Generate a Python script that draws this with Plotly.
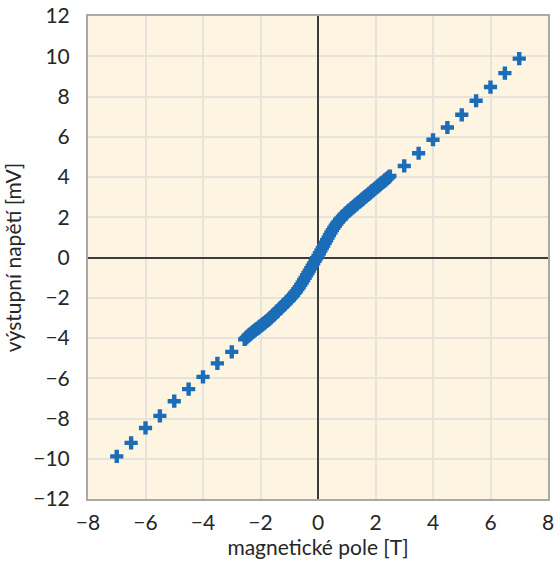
import plotly.graph_objects as go

# Sparse measurements at high field (negative side)
field_neg = [-7.0, -6.5, -6.0, -5.5, -5.0, -4.5, -4.0, -3.5, -3.0]
volt_neg = [-9.88, -9.21, -8.47, -7.87, -7.14, -6.54, -5.93, -5.26, -4.69]

# Dense measurements around zero field
field_mid = [-2.55, -2.50, -2.45, -2.40, -2.35, -2.30, -2.25, -2.20, -2.15, -2.10,
             -2.05, -2.00, -1.95, -1.90, -1.85, -1.80, -1.75, -1.70, -1.65, -1.60,
             -1.55, -1.50, -1.45, -1.40, -1.35, -1.30, -1.25, -1.20, -1.15, -1.10,
             -1.05, -1.00, -0.95, -0.90, -0.85, -0.80, -0.75, -0.70, -0.65, -0.60,
             -0.55, -0.50, -0.45, -0.40, -0.35, -0.30, -0.25, -0.20, -0.15, -0.10,
             -0.05, 0.00, 0.05, 0.10, 0.15, 0.20, 0.25, 0.30, 0.35, 0.40,
             0.45, 0.50, 0.55, 0.60, 0.65, 0.70, 0.75, 0.80, 0.85, 0.90,
             0.95, 1.00, 1.05, 1.10, 1.15, 1.20, 1.25, 1.30, 1.35, 1.40,
             1.45, 1.50, 1.55, 1.60, 1.65, 1.70, 1.75, 1.80, 1.85, 1.90,
             1.95, 2.00, 2.05, 2.10, 2.15, 2.20, 2.25, 2.30, 2.35, 2.40,
             2.45, 2.50]
volt_mid = [-4.07, -4.00, -3.93, -3.86, -3.80, -3.74, -3.68, -3.62, -3.57, -3.52,
            -3.46, -3.41, -3.35, -3.30, -3.24, -3.18, -3.12, -3.06, -3.00, -2.93,
            -2.86, -2.79, -2.72, -2.65, -2.58, -2.51, -2.44, -2.37, -2.30, -2.23,
            -2.16, -2.09, -2.01, -1.93, -1.85, -1.76, -1.67, -1.57, -1.47, -1.36,
            -1.25, -1.13, -1.01, -0.89, -0.77, -0.65, -0.53, -0.41, -0.29, -0.16,
            -0.04, 0.08, 0.21, 0.34, 0.47, 0.60, 0.73, 0.86, 0.99, 1.12,
            1.24, 1.36, 1.47, 1.58, 1.68, 1.77, 1.86, 1.94, 2.02, 2.09,
            2.16, 2.23, 2.30, 2.36, 2.42, 2.48, 2.54, 2.60, 2.66, 2.72,
            2.78, 2.84, 2.90, 2.96, 3.02, 3.08, 3.14, 3.20, 3.26, 3.32,
            3.38, 3.44, 3.50, 3.56, 3.62, 3.68, 3.74, 3.80, 3.86, 3.92,
            3.98, 4.05]

# Sparse measurements at high field (positive side)
field_pos = [3.0, 3.5, 4.0, 4.5, 5.0, 5.5, 6.0, 6.5, 7.0]
volt_pos = [4.55, 5.18, 5.85, 6.46, 7.09, 7.79, 8.47, 9.16, 9.88]

x_ticks = [-8, -6, -4, -2, 0, 2, 4, 6, 8]
y_ticks = [-12, -10, -8, -6, -4, -2, 0, 2, 4, 6, 8, 10, 12]

field = field_neg + field_mid + field_pos
volt = volt_neg + volt_mid + volt_pos

BLUE = "#1b6db8"
FONT = "Lato"
TEXT = "#262626"

fig = go.Figure(
    go.Scatter(
        x=field, y=volt, mode="markers",
        marker=dict(symbol="cross", size=11, color=BLUE, line=dict(width=0)),
        hoverinfo="x+y",
    )
)

axis_common = dict(
    showgrid=True, gridcolor="#e7e3da", gridwidth=1.5,
    zeroline=True, zerolinecolor="#3c3c3c", zerolinewidth=1.5,
    showline=True, linecolor="#a9a9a9", linewidth=2, mirror=True,
    ticks="", ticklabeloverflow="allow",
    tickfont=dict(family=FONT, size=21, color=TEXT),
    title_font=dict(family=FONT, size=21, color=TEXT),
)

fig.update_xaxes(
    range=[-8, 8], tickvals=x_ticks,
    title_text="magnetické pole [T]", title_standoff=4,
    ticklabelstandoff=4, automargin=True,
    **axis_common,
)
fig.update_yaxes(
    range=[-12, 12], tickvals=y_ticks,
    title_text="výstupní napětí [mV]", title_standoff=6,
    ticklabelstandoff=12, automargin=False,
    **axis_common,
)

fig.update_layout(
    width=560, height=567,
    margin=dict(l=88, r=6, t=16, b=68),
    paper_bgcolor="white", plot_bgcolor="#fdf4e2",
    showlegend=False,
    font=dict(family=FONT),
)

fig.write_html("out.html")
